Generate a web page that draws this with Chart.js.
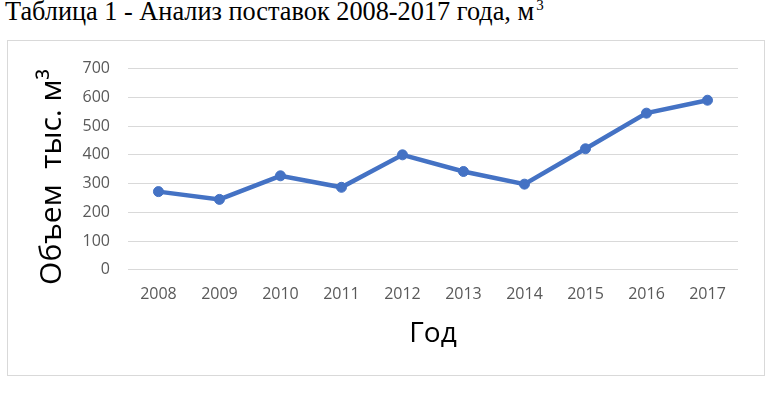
<!DOCTYPE html>
<html>
<head>
<meta charset="utf-8">
<script src="https://cdn.jsdelivr.net/npm/chart.js@4"></script>
<style>
  body { margin: 0; background: #fff; }
  #caption {
    position: absolute; left: 5px; top: -1px;
    font-family: "Liberation Serif", "Times New Roman", serif;
    font-size: 26.3px; line-height: 1; color: #000; white-space: nowrap;
  }
  #caption sup { font-size: 15px; vertical-align: top; position: relative; top: -1px; margin-left: 2px; }
  #frame {
    position: absolute; left: 7px; top: 40px;
    width: 756px; height: 334px;
    border: 1px solid #d9d9d9;
  }
</style>
</head>
<body>
<div id="caption">Таблица 1 - Анализ поставок 2008-2017 года, м<sup>3</sup></div>
<div id="frame"><canvas id="myChart" width="756" height="334"></canvas></div>
<script>
// values
const years = ['2008', '2009', '2010', '2011', '2012', '2013', '2014', '2015', '2016', '2017'];
const volumes = [272, 245, 327, 287, 400, 342, 298, 421, 545, 590];
const yTicks = [0, 100, 200, 300, 400, 500, 600, 700];

const lineColor = '#4472C4';
const ctx = document.getElementById('myChart').getContext('2d');

new Chart(ctx, {
  type: 'line',
  data: {
    labels: years,
    datasets: [{
      label: 'Объем',
      data: volumes,
      borderColor: lineColor,
      backgroundColor: lineColor,
      borderWidth: 4.5,
      pointRadius: 5,
      pointBorderWidth: 1,
      tension: 0
    }]
  },
  options: {
    responsive: false,
    animation: false,
    layout: {
      padding: { left: 20, right: 26, top: 14, bottom: 27 }
    },
    plugins: {
      legend: { display: false },
      tooltip: { enabled: false }
    },
    scales: {
      x: {
        offset: true,
        grid: { display: false },
        border: { display: false },
        ticks: {
          color: '#595959',
          font: { family: 'Open Sans', size: 16 },
          padding: 7
        },
        title: {
          display: true,
          text: 'Год',
          color: '#000',
          font: { family: 'Open Sans', size: 28, lineHeight: 1.0 },
          padding: { top: 9, bottom: 0 }
        }
      },
      y: {
        min: yTicks[0],
        max: yTicks[yTicks.length - 1],
        afterBuildTicks: (axis) => {
          axis.ticks = yTicks.map(v => ({ value: v }));
        },
        grid: { color: '#d9d9d9', lineWidth: 1, drawTicks: false },
        border: { display: false },
        ticks: {
          color: '#595959',
          font: { family: 'Open Sans', size: 16 },
          padding: 18
        },
        title: {
          display: true,
          // trailing spaces nudge the rotated title down like in the original
          text: 'Объем  тыс. м³\u00a0\u00a0',
          color: '#000',
          font: { family: 'Open Sans', size: 30, lineHeight: 1.0 },
          padding: { top: 9, bottom: -2.5 }
        }
      }
    }
  }
});
</script>
</body>
</html>
